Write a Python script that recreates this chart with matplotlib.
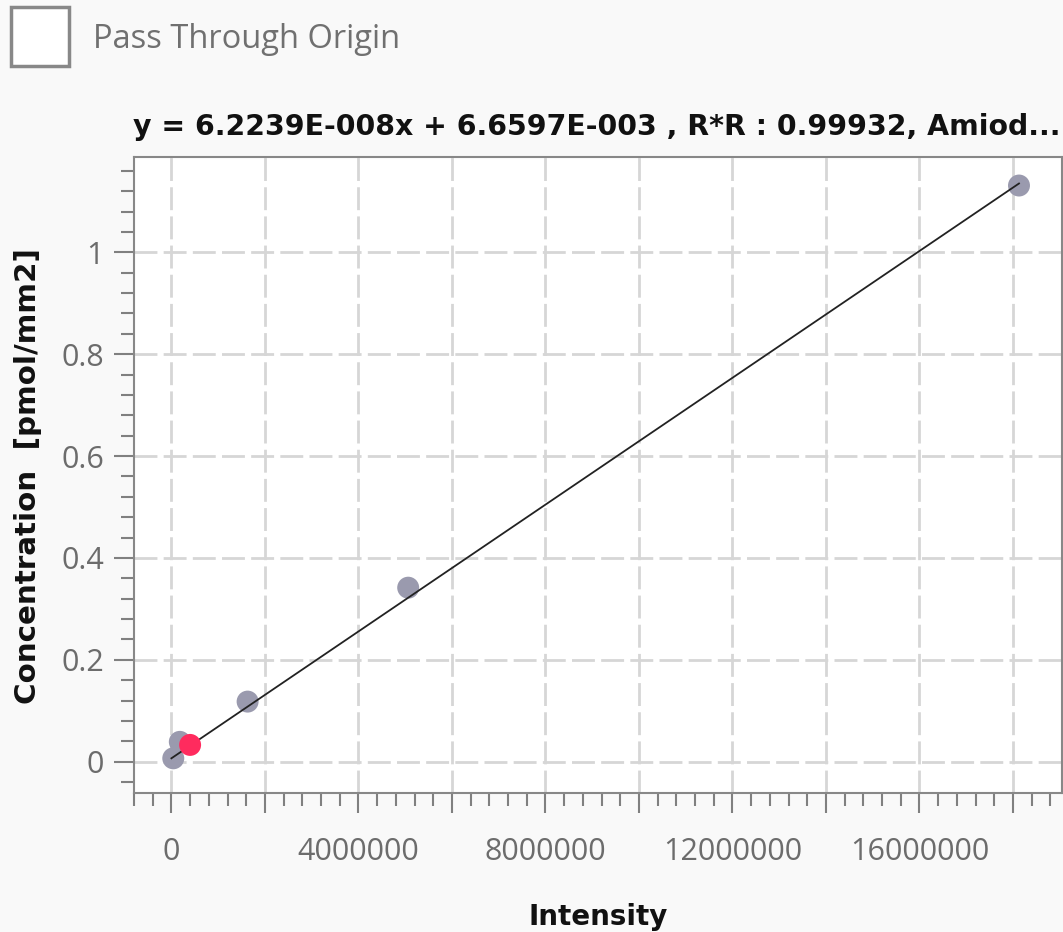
import matplotlib
matplotlib.use('Agg')
import matplotlib.pyplot as plt
from matplotlib.ticker import MultipleLocator, FuncFormatter
from matplotlib.patches import Rectangle

# calibration standards
intensity = [40000, 180000, 1630000, 5065000, 18130000]
concentration = [0.0067, 0.039, 0.118, 0.3416, 1.131]
# sample point (highlighted)
sample_x = [400000]
sample_y = [0.033]
# fitted line end points
fit_x = [0, 18130000]
fit_y = [0.0067, 1.135]

title = 'y = 6.2239E-008x + 6.6597E-003 , R*R : 0.99932, Amiod...'
xlabel = 'Intensity'
ylabel = 'Concentration  [pmol/mm2]'
checkbox_label = 'Pass Through Origin'

plt.rcParams['font.family'] = ['Open Sans', 'DejaVu Sans']
plt.rcParams['lines.scale_dashes'] = False
bold_font = ['DejaVu Sans']

W, H = 1063, 932
fig = plt.figure(figsize=(W / 100, H / 100), dpi=100, facecolor='#f9f9f9')
ax = fig.add_axes([134 / W, 1 - 793 / H, (1062 - 134) / W, (793 - 157) / H])
ax.set_facecolor('white')

ax.set_xlim(-800000, 19050000)
ax.set_ylim(-0.0614, 1.187)

ax.xaxis.set_major_locator(MultipleLocator(2000000))
ax.xaxis.set_minor_locator(MultipleLocator(400000))
ax.yaxis.set_major_locator(MultipleLocator(0.2))
ax.yaxis.set_minor_locator(MultipleLocator(0.04))

def xfmt(v, pos):
    if round(v) % 4000000 == 0:
        return '%d' % round(v)
    return ''

def yfmt(v, pos):
    if abs(v) < 1e-9:
        return '0'
    return ('%.1f' % v).rstrip('0').rstrip('.')

ax.xaxis.set_major_formatter(FuncFormatter(xfmt))
ax.yaxis.set_major_formatter(FuncFormatter(yfmt))

ax.grid(True, which='major', color='#d6d6d6', linewidth=2.0, linestyle=(0, (16.5, 4.5)))
ax.set_axisbelow(True)

ax.tick_params(which='major', direction='out', length=14.5, width=1.5, color='#808080',
               labelcolor='#6c6c6c', labelsize=22)
ax.tick_params(which='minor', direction='out', length=9.5, width=1.5, color='#808080')
ax.tick_params(axis='x', which='major', pad=17)
ax.tick_params(axis='y', which='major', pad=7)

for s in ax.spines.values():
    s.set_color('#888888')
    s.set_linewidth(1.5)

ax.scatter(intensity, concentration, s=250, color='#9a9aae', edgecolors='none', zorder=3)
ax.plot(fit_x, fit_y, color='#222222', linewidth=1.3, zorder=4)
ax.scatter(sample_x, sample_y, s=250, color='#ff2b5e', edgecolors='none', zorder=5)

# title, axis labels placed in figure pixels
fig.text(133 / W, 1 - 127 / H, title, ha='left', va='center', fontsize=20.4,
         fontweight='bold', color='#111111', family=bold_font)
fig.text(598 / W, 1 - 917 / H, xlabel, ha='center', va='center', fontsize=20,
         fontweight='bold', color='#111111', family=bold_font)
fig.text(28 / W, 1 - 476 / H, ylabel, ha='center', va='center', rotation=90,
         fontsize=21.2, fontweight='bold', color='#111111', family=bold_font)

# checkbox
fig.add_artist(Rectangle((11 / W, 1 - 66 / H), 58 / W, 59 / H, transform=fig.transFigure,
                         facecolor='white', edgecolor='#888888', linewidth=2.5))
fig.text(93 / W, 1 - 39 / H, checkbox_label, ha='left', va='center', fontsize=23.5,
         color='#707070')

fig.savefig('out.png', dpi=100, facecolor=fig.get_facecolor())
